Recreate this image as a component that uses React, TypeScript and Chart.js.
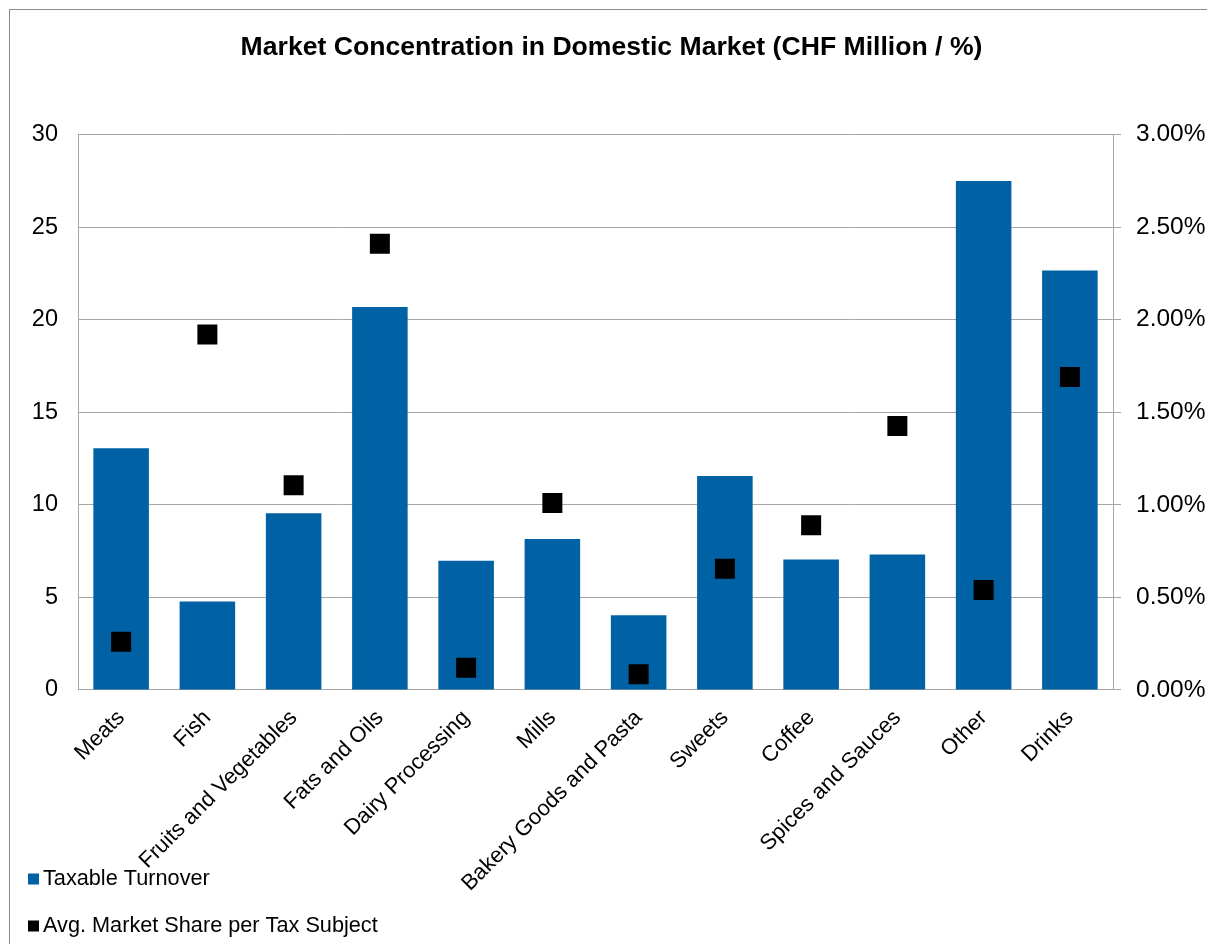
import React, { useEffect, useRef } from 'react';
import { Chart, registerables } from 'chart.js';

Chart.register(...registerables);

const categories = [
  'Meats',
  'Fish',
  'Fruits and Vegetables',
  'Fats and Oils',
  'Dairy Processing',
  'Mills',
  'Bakery Goods and Pasta',
  'Sweets',
  'Coffee',
  'Spices and Sauces',
  'Other',
  'Drinks',
];

const taxableTurnover = [13.05, 4.78, 9.55, 20.68, 6.98, 8.15, 4.03, 11.55, 7.05, 7.32, 27.48, 22.65];
const avgMarketShare = [0.26, 1.92, 1.105, 2.41, 0.12, 1.01, 0.085, 0.655, 0.89, 1.425, 0.54, 1.69];

const leftAxisMax = 30;
const leftAxisStep = 5;
const rightAxisMax = 3;
const rightAxisStep = 0.5;

const FONT = '"Liberation Sans", Arial, Helvetica, sans-serif';
const BAR_COLOR = '#0062A5';
const GRID_COLOR = '#A6A6A6';

const framePlugin = {
  id: 'frame',
  beforeDraw(chart: any) {
    const { ctx, width, height } = chart;
    ctx.save();
    ctx.fillStyle = '#ffffff';
    ctx.fillRect(0, 0, width, height);
    ctx.strokeStyle = '#8c8c8c';
    ctx.lineWidth = 1;
    ctx.strokeRect(1.5, 1.5, width + 20, height + 20);
    ctx.restore();
  },
};

const legendPlugin = {
  id: 'leftLegend',
  afterDraw(chart: any) {
    const { ctx } = chart;
    const rows = [871, 918];
    ctx.save();
    ctx.font = `21.7px ${FONT}`;
    ctx.textBaseline = 'middle';
    ctx.textAlign = 'left';
    chart.data.datasets.forEach((ds: any, i: number) => {
      ctx.fillStyle = ds.backgroundColor;
      ctx.fillRect(20, rows[i] - 5.5, 11, 11);
      ctx.fillStyle = '#000000';
      ctx.fillText(ds.label, 35, rows[i]);
    });
    ctx.restore();
  },
};

export default function App() {
  const canvasRef = useRef<HTMLCanvasElement | null>(null);

  useEffect(() => {
    if (!canvasRef.current) return;
    const chart = new Chart(canvasRef.current, {
      type: 'bar',
      data: {
        labels: categories,
        datasets: [
          {
            type: 'bar',
            label: 'Taxable Turnover',
            data: taxableTurnover,
            backgroundColor: BAR_COLOR,
            borderWidth: 0,
            barPercentage: 0.644,
            categoryPercentage: 1,
            yAxisID: 'y',
            order: 1,
          },
          {
            type: 'line',
            label: 'Avg. Market Share per Tax Subject',
            data: avgMarketShare,
            backgroundColor: '#000000',
            borderColor: '#000000',
            showLine: false,
            pointStyle: 'rect',
            pointRadius: 14.14,
            pointHoverRadius: 14.14,
            pointBorderWidth: 0,
            yAxisID: 'y1',
            order: 0,
          } as any,
        ],
      },
      options: {
        responsive: false,
        animation: false,
        events: [],
        layout: { padding: { left: 0, right: 0, top: 0, bottom: 0 } },
        font: { family: FONT },
        plugins: {
          legend: { display: false },
          tooltip: { enabled: false },
          title: {
            display: true,
            text: 'Market Concentration in Domestic Market (CHF Million / %)',
            color: '#000000',
            font: { family: FONT, size: 26.6, weight: 'bold', lineHeight: 1.2 },
            padding: { top: 24, bottom: 70.5 },
          },
        },
        scales: {
          x: {
            type: 'category',
            offset: true,
            grid: { display: false, drawTicks: false },
            border: { display: true, color: GRID_COLOR, width: 1 },
            ticks: {
              color: '#000000',
              font: { family: FONT, size: 22 },
              minRotation: 45,
              maxRotation: 45,
              autoSkip: false,
              padding: 15,
            },
            afterFit(scale: any) {
              scale.height = 254;
            },
          },
          y: {
            type: 'linear',
            position: 'left',
            min: 0,
            max: leftAxisMax,
            grid: { color: GRID_COLOR, drawTicks: false, lineWidth: 1 },
            border: { display: true, color: GRID_COLOR, width: 1 },
            ticks: {
              stepSize: leftAxisStep,
              color: '#000000',
              font: { family: FONT, size: 23.5 },
              padding: 20,
            },
            afterFit(scale: any) {
              scale.width = 70;
            },
          },
          y1: {
            type: 'linear',
            position: 'right',
            min: 0,
            max: rightAxisMax,
            grid: {
              drawOnChartArea: false,
              drawTicks: true,
              tickLength: 8,
              color: GRID_COLOR,
            },
            border: { display: true, color: GRID_COLOR, width: 1 },
            ticks: {
              stepSize: rightAxisStep,
              color: '#000000',
              font: { family: FONT, size: 24.5 },
              padding: 15,
              callback: (v: any) => Number(v).toFixed(2) + '%',
            },
            afterFit(scale: any) {
              scale.width = 102;
            },
          },
        },
      },
      plugins: [framePlugin, legendPlugin],
    } as any);
    return () => chart.destroy();
  }, []);

  return (
    <div style={{ width: 1207, height: 936, position: 'relative', overflow: 'hidden' }}>
      <canvas ref={canvasRef} width={1207} height={936} style={{ display: 'block' }} />
    </div>
  );
}
